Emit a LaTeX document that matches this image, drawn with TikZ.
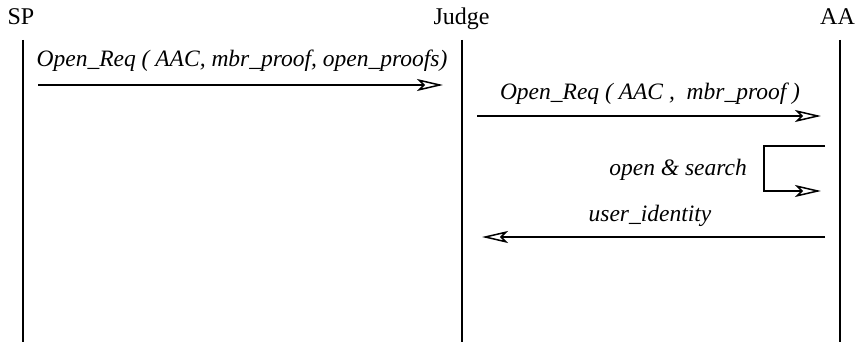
\documentclass[tikz,border=0pt]{standalone}
\usepackage{fontspec}
\setmainfont{Liberation Serif}
\usetikzlibrary{arrows.meta}
\tikzset{
  lifeline/.style={line width=1.8pt},
  msg/.style={line width=1.5pt, -{Stealth[open, length=26pt, width=12pt, inset=6pt, line width=1.5pt]}},
  head/.style={font=\fontsize{24}{28}\selectfont, anchor=base, inner sep=0pt},
  lbl/.style={font=\fontsize{23.5}{28}\selectfont\itshape, anchor=base, inner sep=0pt}
}
\begin{document}
\begin{tikzpicture}[x=1pt,y=-1pt]
\useasboundingbox (0,0) rectangle (856,342);
% heads
\node[head] (SP) at (21,25) {SP};
\node[head] (Judge) at (461.5,25) {Judge};
\node[head] (AA) at (837.5,25) {AA};
% lifelines
\coordinate (sp0) at (23,40);  \coordinate (sp1) at (23,342);
\coordinate (j0) at (461.7,40); \coordinate (j1) at (461.7,342);
\coordinate (a0) at (840,40);  \coordinate (a1) at (840,342);
\draw[lifeline] (sp0) -- (sp1);
\draw[lifeline] (j0) -- (j1);
\draw[lifeline] (a0) -- (a1);
% message 1
\coordinate (m1s) at (38,85); \coordinate (m1e) at (443,85);
\draw[msg] (m1s) -- (m1e);
\node[lbl] (l1) at (242,67) {Open\_Req ( AAC, mbr\_proof, open\_proofs)};
% message 2
\coordinate (m2s) at (477,116); \coordinate (m2e) at (821,116);
\draw[msg] (m2s) -- (m2e);
\node[lbl] (l2) at (650,100) {Open\_Req ( AAC ,\ \ mbr\_proof )};
% self loop
\coordinate (s0) at (825,146); \coordinate (s1) at (764,146);
\coordinate (s2) at (764,191); \coordinate (s3) at (821,191);
\draw[msg] (s0) -- (s1) -- (s2) -- (s3);
\node[lbl, anchor=base east] (l3) at (747,175) {open \& search};
% message 4
\coordinate (m4s) at (825,237); \coordinate (m4e) at (482,237);
\draw[msg] (m4s) -- (m4e);
\node[lbl] (l4) at (650,221) {user\_identity};
\end{tikzpicture}
\end{document}
